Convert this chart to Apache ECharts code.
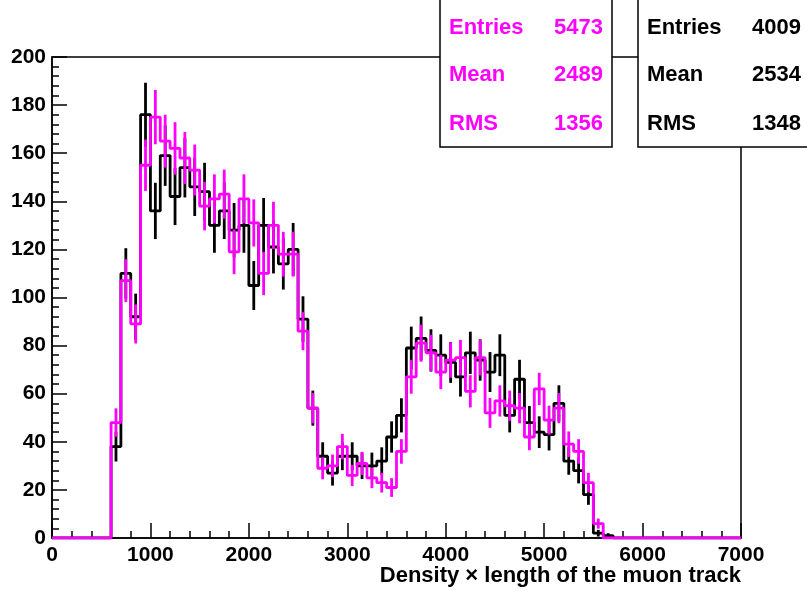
<!DOCTYPE html>
<html>
<head>
<meta charset="utf-8">
<style>
  html, body { margin: 0; padding: 0; background: #fff; }
  #chart { width: 807px; height: 591px; }
</style>
<script src="https://cdn.jsdelivr.net/npm/echarts@6/dist/echarts.min.js"></script>
</head>
<body>
<div id="chart"></div>
<script>
// lower edges of the filled bins (bin width 100)
var binEdges = [600, 700, 800, 900, 1000, 1100, 1200, 1300, 1400, 1500,
  1600, 1700, 1800, 1900, 2000, 2100, 2200, 2300, 2400, 2500,
  2600, 2700, 2800, 2900, 3000, 3100, 3200, 3300, 3400, 3500,
  3600, 3700, 3800, 3900, 4000, 4100, 4200, 4300, 4400, 4500,
  4600, 4700, 4800, 4900, 5000, 5100, 5200, 5300, 5400, 5500, 5600];
var binEnd = 5700;
var axisMin = 0, axisMax = 7000;

// black histogram (4009 entries)
var blackCounts = [38, 110, 92, 176, 136, 159, 142, 154, 146, 144,
  130, 136, 128, 130, 105, 130, 121, 114, 120, 91,
  54, 34, 27, 34, 34, 30, 30, 32, 42, 51,
  79, 83, 78, 76, 73, 67, 77, 74, 69, 76,
  51, 66, 48, 44, 43, 56, 32, 28, 18, 2, 1];
var blackErrors = [6.2, 10.5, 9.6, 13.3, 11.7, 12.6, 11.9, 12.4, 12.1, 12.0,
  11.4, 11.7, 11.3, 11.4, 10.2, 11.4, 11.0, 10.7, 11.0, 9.5,
  7.3, 5.8, 5.2, 5.8, 5.8, 5.5, 5.5, 5.7, 6.5, 7.1,
  8.9, 9.1, 8.8, 8.7, 8.5, 8.2, 8.8, 8.6, 8.3, 8.7,
  7.1, 8.1, 6.9, 6.6, 6.6, 7.5, 5.7, 5.3, 4.2, 1.4, 1.0];

// magenta histogram (5473 entries, scaled)
var magentaCounts = [48, 107, 89, 155, 175, 165, 162, 158, 153, 138,
  141, 143, 119, 141, 131, 110, 130, 118, 118, 86,
  54, 29, 30, 38, 26, 31, 25, 23, 21, 36,
  67, 81, 77, 69, 74, 75, 61, 75, 52, 57,
  55, 54, 42, 62, 49, 54, 39, 36, 23, 6, 0];
var magentaErrors = [5.9, 8.9, 8.1, 10.7, 11.3, 11.0, 10.9, 10.8, 10.6, 10.1,
  10.2, 10.2, 9.3, 10.2, 9.8, 9.0, 9.8, 9.3, 9.3, 7.9,
  6.3, 4.6, 4.7, 5.3, 4.4, 4.8, 4.3, 4.1, 3.9, 5.1,
  7.0, 7.7, 7.5, 7.1, 7.4, 7.4, 6.7, 7.4, 6.2, 6.5,
  6.3, 6.3, 5.5, 6.7, 6.0, 6.3, 5.3, 5.1, 4.1, 2.1, 0];

var xTicks = [0, 1000, 2000, 3000, 4000, 5000, 6000, 7000];
var yTicks = [0, 20, 40, 60, 80, 100, 120, 140, 160, 180, 200];
var xTitle = 'Density \u00d7 length of the muon track';

var stats = {
  magenta: { entries: '5473', mean: '2489', rms: '1356' },
  black: { entries: '4009', mean: '2534', rms: '1348' }
};

var MAGENTA = '#ff00ff';
var FONT = 'Liberation Sans';

function stepData(counts) {
  var d = [[axisMin, 0]];
  for (var i = 0; i < binEdges.length; i++) d.push([binEdges[i], counts[i]]);
  d.push([binEnd, 0]);
  d.push([axisMax, 0]);
  return d;
}

function errData(counts, errs) {
  var d = [];
  for (var i = 0; i < binEdges.length; i++) {
    if (counts[i] <= 0) continue;
    var hi = i + 1 < binEdges.length ? binEdges[i + 1] : binEnd;
    d.push([(binEdges[i] + hi) / 2, counts[i], errs[i]]);
  }
  return d;
}

function errRender(color) {
  return function (params, api) {
    var x = api.value(0), y = api.value(1), e = api.value(2);
    var p1 = api.coord([x, y - e]);
    var p2 = api.coord([x, y + e]);
    return {
      type: 'line',
      shape: { x1: p1[0], y1: p1[1], x2: p2[0], y2: p2[1] },
      style: { stroke: color, lineWidth: 2.8 }
    };
  };
}

function statsBox(x, w, color, s) {
  var rows = [['Entries', s.entries, 28], ['Mean', s.mean, 75], ['RMS', s.rms, 124]];
  var children = [{
    type: 'rect',
    shape: { x: 0, y: -2, width: w, height: 149 },
    style: { fill: '#fff', stroke: '#000', lineWidth: 1.5 }
  }];
  rows.forEach(function (r) {
    children.push({
      type: 'text', x: 9, y: r[2],
      style: { text: r[0], fill: color, font: 'bold 22px "' + FONT + '"', textVerticalAlign: 'middle', textAlign: 'left' }
    });
    children.push({
      type: 'text', x: w - 9, y: r[2],
      style: { text: r[1], fill: color, font: 'bold 22px "' + FONT + '"', textVerticalAlign: 'middle', textAlign: 'right' }
    });
  });
  return { type: 'group', x: x, y: 0, z: 100, children: children };
}

var chart = echarts.init(document.getElementById('chart'), null, { renderer: 'canvas' });

var option = {
  animation: false,
  grid: {
    left: 52, right: 66, top: 57, bottom: 53,
    containLabel: false, outerBoundsMode: 'none',
    show: true, borderColor: '#000', borderWidth: 1.5, backgroundColor: 'transparent'
  },
  xAxis: {
    type: 'value', min: axisMin, max: axisMax, interval: 1000,
    axisLine: { show: true, lineStyle: { color: '#000', width: 1.5 } },
    axisTick: { show: true, inside: true, length: 15, lineStyle: { color: '#000', width: 1.5 } },
    minorTick: { show: true, splitNumber: 5, length: 7, lineStyle: { color: '#000', width: 1.5 } },
    splitLine: { show: false },
    axisLabel: {
      fontFamily: FONT, fontWeight: 'bold', fontSize: 21, color: '#000', margin: 7,
      formatter: function (v) { return xTicks.indexOf(v) >= 0 ? String(v) : ''; }
    }
  },
  yAxis: {
    type: 'value', min: 0, max: 200, interval: 20,
    axisLine: { show: true, lineStyle: { color: '#000', width: 1.5 } },
    axisTick: { show: true, inside: true, length: 15, lineStyle: { color: '#000', width: 1.5 } },
    minorTick: { show: true, splitNumber: 5, length: 7, lineStyle: { color: '#000', width: 1.5 } },
    splitLine: { show: false },
    axisLabel: {
      fontFamily: FONT, fontWeight: 'bold', fontSize: 21, color: '#000', margin: 6,
      formatter: function (v) { return yTicks.indexOf(v) >= 0 ? String(v) : ''; }
    }
  },
  series: [
    {
      type: 'line', step: 'end', showSymbol: false, silent: true,
      data: stepData(blackCounts),
      lineStyle: { color: '#000', width: 2.8 }, z: 2
    },
    {
      type: 'custom', renderItem: errRender('#000'), clip: true,
      data: errData(blackCounts, blackErrors), z: 3
    },
    {
      type: 'line', step: 'end', showSymbol: false, silent: true,
      data: stepData(magentaCounts),
      lineStyle: { color: MAGENTA, width: 2.8 }, z: 4
    },
    {
      type: 'custom', renderItem: errRender(MAGENTA), clip: true,
      data: errData(magentaCounts, magentaErrors), z: 5
    }
  ],
  graphic: [
    statsBox(440, 172, MAGENTA, stats.magenta),
    statsBox(638, 172, '#000', stats.black),
    {
      type: 'text', right: 66, top: 565, z: 100,
      style: { text: xTitle, fill: '#000', font: 'bold 22px "' + FONT + '"' }
    }
  ]
};

chart.setOption(option);
</script>
</body>
</html>
